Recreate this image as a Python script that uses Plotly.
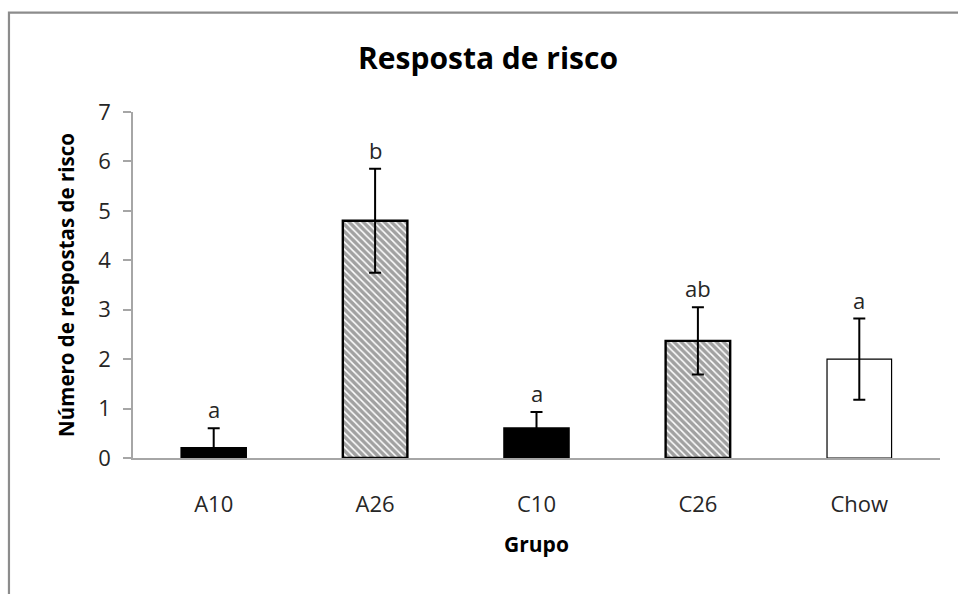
import plotly.graph_objects as go

# Risk-assessment responses per group (mean ± error)
groups = ["A10", "A26", "C10", "C26", "Chow"]
means = [0.2, 4.8, 0.6, 2.37, 2.0]
errors = [0.4, 1.05, 0.33, 0.68, 0.82]
letters = ["a", "b", "a", "ab", "a"]

fills = ["black", "white", "black", "white", "white"]
patterns = ["", "\\", "", "\\", ""]
outline_w = [2, 2.4, 2, 2.4, 1.2]

font_main = "Open Sans"
axis_grey = "#a6a6a6"

fig = go.Figure()
fig.add_trace(go.Bar(
    x=groups,
    y=means,
    marker=dict(
        color=fills,
        line=dict(color="black", width=outline_w),
        pattern=dict(shape=patterns, fgcolor="black", bgcolor="white",
                     size=5, solidity=0.7),
    ),
    error_y=dict(type="data", array=errors, visible=True,
                 color="black", thickness=2, width=6),
    width=0.4,
    showlegend=False,
))

# significance letters above each error bar
for g, m, e, t in zip(groups, means, errors, letters):
    fig.add_annotation(x=g, y=m + e, text=t, showarrow=False,
                       yanchor="middle", yshift=19,
                       font=dict(family=font_main, size=22, color="#262626"))

# outer chart frame (top and left edges)
fig.add_shape(type="path", xref="paper", yref="paper",
              path="M -0.1537 -0.5 L -0.1537 1.2872 L 1.1 1.2872",
              line=dict(color="#8c8c8c", width=2.2))

fig.update_layout(
    width=958, height=594,
    margin=dict(l=133, r=18, t=112, b=136),
    paper_bgcolor="white", plot_bgcolor="white",
    title=dict(text="<b>Resposta de risco</b>", x=488 / 958, xanchor="center",
               y=1 - 58 / 594, yanchor="middle",
               font=dict(family=font_main, size=30, color="black")),
    font=dict(family=font_main, color="#262626"),
)
fig.update_xaxes(
    showline=True, linecolor=axis_grey, linewidth=1.5,
    ticks="", tickfont=dict(size=22, color="#262626"),
    ticklabelstandoff=26,
    title=dict(text="<b>Grupo</b>", font=dict(size=21, color="black"), standoff=20),
)
fig.update_yaxes(
    range=[0, 7], dtick=1, showgrid=False, zeroline=False,
    showline=True, linecolor=axis_grey, linewidth=1.5,
    ticks="outside", ticklen=8, tickcolor=axis_grey, tickwidth=1.5,
    tickfont=dict(size=22, color="#262626"),
    ticklabelstandoff=8,
    title=dict(text="<b>Número de respostas de risco</b>",
               font=dict(size=20.5, color="black"), standoff=18),
)

fig.write_html("out.html")
